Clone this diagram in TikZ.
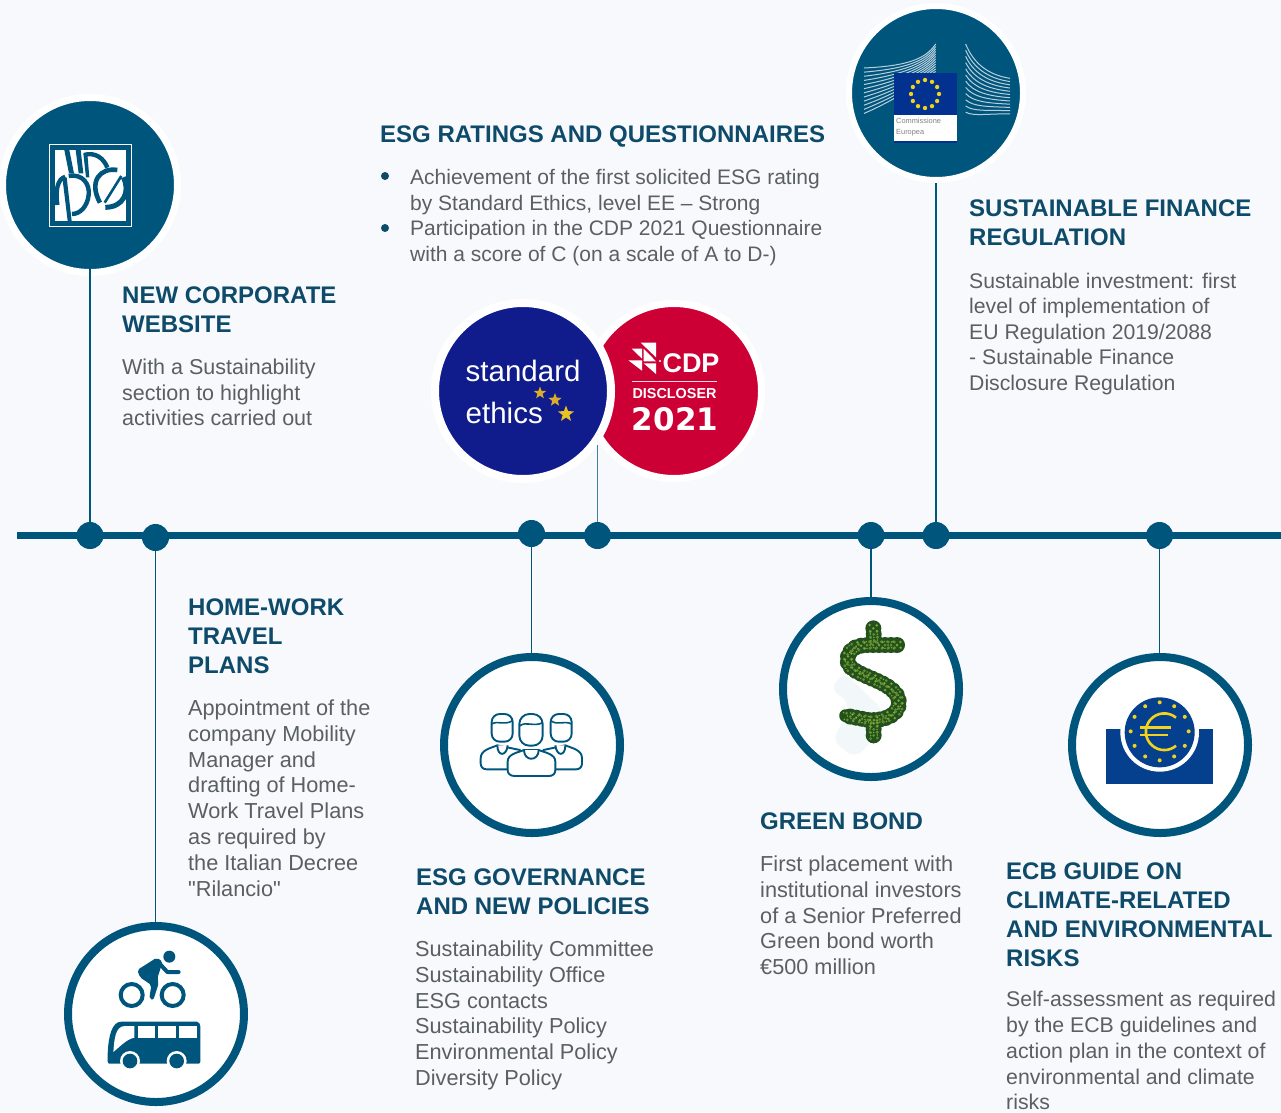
\documentclass[tikz,border=0pt]{standalone}
\usepackage{fontspec}
\setmainfont{Liberation Sans}
\newfontfamily\plainf{Liberation Sans}
\newfontfamily\dvfont{DejaVu Sans}
\usetikzlibrary{shapes.geometric}
\definecolor{bgc}{HTML}{F7F9FD}
\definecolor{bluec}{HTML}{00557D}
\definecolor{headc}{HTML}{0E4A69}
\definecolor{bodyc}{HTML}{5A5F64}
\definecolor{navyc}{HTML}{101C8C}
\definecolor{redc}{HTML}{CC0035}
\definecolor{eublue}{HTML}{02318F}
\definecolor{ecbblue}{HTML}{04408E}
\definecolor{goldc}{HTML}{F2D21C}
\definecolor{leafd}{HTML}{24501E}
\definecolor{leafl}{HTML}{5F8F34}
\tikzset{
  x=1pt,y=-1pt,
  headtxt/.style={anchor=north west,inner sep=0pt,align=left,text=headc,font=\fontsize{24}{29}\selectfont\bfseries},
  bodytxt/.style={anchor=north west,inner sep=0pt,align=left,text=bodyc,font=\fontsize{#1}{25.8}\selectfont},
  bodytxt/.default=21.7,
  tdot/.style={circle,fill=bluec,minimum size=27pt,inner sep=0pt,outer sep=0pt},
  stemline/.style={draw=bluec,line width=1.3pt},
  ringc/.style={circle,draw=bluec,fill=white,line width=8pt,minimum size=176pt,inner sep=0pt},
  halo/.style={circle,draw=white,line width=7pt,minimum size=175pt,inner sep=0pt,outer sep=0pt},
  bull/.style={circle,fill=headc,minimum size=8pt,inner sep=0pt},
  zoomed/.style={shift={#1},x=0.33333pt,y=-0.33333pt},
  pline/.style={draw=bluec,line width=1.9pt,line join=round,fill=white},
  leafa/.style={draw=leafd,line width=13pt,line cap=round,line join=round},
  leafb/.style={draw=leafd,line width=16pt,line cap=round,dash pattern=on 0pt off 6pt},
  leafc/.style={draw=leafl,line width=3pt,line cap=round,dash pattern=on 0pt off 6pt},
  leafe/.style={draw=leafl!70!yellow,line width=1.6pt,line cap=round,dash pattern=on 0pt off 9pt},
}
\newcommand{\dollarS}[1]{%
  \draw[#1] (366,150) -- (280,150) .. controls (235,150) and (215,170) .. (218,200)
      .. controls (222,245) and (370,255) .. (372,322)
      .. controls (372,365) and (320,378) .. (280,375) -- (212,362);
  \draw[#1] (295,100) -- (298,145);
  \draw[#1] (296,385) -- (296,425);
}
\begin{document}
\begin{tikzpicture}
\fill[bgc] (0,0) rectangle (1281,1112);
\useasboundingbox (0,0) rectangle (1281,1112);

% timeline
\coordinate (tl0) at (17,535.5);
\coordinate (tl1) at (1281,535.5);
\draw[bluec,line width=7pt] (tl0) -- (tl1);

% circles
\node[halo,fill=bluec] (web) at (90,185) {};
\node[halo,fill=redc] (cdp) at (674,391) {};
\node[halo,fill=navyc,minimum size=176pt,line width=8pt] (eth) at (523,391) {};
\node[halo,fill=bluec,minimum size=174pt,line width=6pt] (comm) at (936,93) {};
\node[ringc] (bike) at (156,1014) {};
\node[ringc] (peop) at (532,745) {};
\node[ringc] (doll) at (871,689) {};
\node[ringc] (ecb) at (1160,745) {};

% dots
\node[tdot] (d1) at (90,535.5) {};
\node[tdot] (d2) at (155.5,537.5) {};
\node[tdot] (d3) at (531.5,533.5) {};
\node[tdot] (d4) at (597.5,535.5) {};
\node[tdot] (d5) at (871,535.5) {};
\node[tdot] (d6) at (936,535.5) {};
\node[tdot] (d7) at (1159.5,535.5) {};

% stems
\coordinate (cdpfoot) at (597.5,445);
\draw[stemline,shorten <=-7pt] (web) -- (d1);
\draw[stemline] (d2) -- (d2 |- bike.north);
\draw[stemline] (d3) -- (d3 |- peop.north);
\draw[stemline,draw=bluec!75] (d4) -- (cdpfoot);
\draw[stemline] (d5) -- (doll);
\draw[stemline,shorten >=3pt] (d6) -- (comm);
\draw[stemline] (d7) -- (d7 |- ecb.north);

% --- HDP logo
\begin{scope}[zoomed={(0,90)}]
  \draw[white,line width=1.2pt] (148,163) rectangle (395,410);
  \fill[white] (165,180) rectangle (378,393);
  \begin{scope}
    \clip (165,180) rectangle (378,393);
    \fill[bluec] (193,180) -- (208,180) -- (222,250) -- (207,250) -- cycle;
    \fill[bluec] (227,180) -- (242,180) -- (250,250) -- (236,250) -- cycle;
    % P
    \fill[bluec] (250,190) -- (262,190) -- (268,262) -- (258,262) -- cycle;
    \draw[bluec,line width=4.4pt] (252,195) .. controls (285,185) and (312,205) .. (322,233);
    % left arc and strip
    \draw[bluec,line width=4.4pt] (196,260) .. controls (172,268) and (166,300) .. (172,345);
    \fill[bluec] (188,270) -- (200,262) -- (215,393) -- (203,393) -- cycle;
    % D
    \draw[bluec,line width=4.4pt] (206,258) .. controls (250,250) and (270,285) .. (266,315) .. controls (262,350) and (240,372) .. (216,372);
    % disc with slash
    \draw[bluec,line width=4.6pt] (352,240) .. controls (300,232) and (265,275) .. (300,338);
    \draw[bluec,line width=5pt] (370,262) .. controls (392,305) and (370,352) .. (316,352);
    \draw[bluec,line width=2.6pt] (314,338) -- (364,258);
  \end{scope}
\end{scope}

% --- Standard ethics
\node[inner sep=0pt,anchor=west,text=white,font=\fontsize{29.5}{30}\selectfont] (ethA) at (465.5,371) {standard};
\node[inner sep=0pt,anchor=west,text=white,font=\fontsize{29.5}{30}\selectfont] (ethB) at (465.5,413) {ethics};
\node[star,star points=5,star point ratio=2.4,fill=goldc!55!brown,minimum size=13pt,inner sep=0pt] (st1) at (540,393) {};
\node[star,star points=5,star point ratio=2.4,fill=goldc!55!brown,minimum size=14pt,inner sep=0pt] (st2) at (555,400) {};
\node[star,star points=5,star point ratio=2.4,fill=goldc!80!brown,minimum size=17pt,inner sep=0pt] (st3) at (566,414) {};

% --- CDP
\begin{scope}[zoomed={(430,300)}]
  \fill[white] (632,128) -- (678,128) -- (678,172) -- cycle;
  \fill[white] (605,146) -- (636,146) -- (636,176) -- cycle;
  \fill[white] (641,146) -- (678,184) -- (641,184) -- cycle;
  \fill[white] (595,181) -- (636,181) -- (636,212) -- cycle;
  \fill[white] (641,190) -- (678,190) -- (678,222) -- cycle;
  \fill[white] (690,183) circle (3.5);
  \draw[white!85!redc,line width=0.8pt] (605,243) -- (860,243);
\end{scope}
\node[inner sep=0pt,text=white,font=\fontsize{27}{27}\selectfont\bfseries] (cdpA) at (691,363.5) {CDP};
\node[inner sep=0pt,text=white,font=\fontsize{14.4}{14.4}\selectfont\bfseries] (cdpB) at (674.5,394) {DISCLOSER};
\node[inner sep=0pt,text=white,font=\dvfont\fontsize{31}{31}\selectfont\bfseries] (cdpC) at (675,419) {2021};

% --- Commission
\begin{scope}[zoomed={(845,0)}]
  \foreach \i in {0,...,11} {
    \draw[white!72!bluec,line width=1pt]
      (57,{204+12.4*\i}) .. controls (180,{198+8*\i}) and (240,{180+5*\i}) .. (272,{132+7.5*\i});
    \draw[white!72!bluec,line width=1pt]
      (362,{132+18.6*\i}) .. controls (385,{190+14.5*\i}) and (430,{225+10.5*\i}) .. (495,{235+9.7*\i});
  }
  \fill[white] (147,345) rectangle (335,427);
  \fill[eublue] (147,220) rectangle (335,345);
  \fill[eublue] (147,423) rectangle (335,428);
  \foreach \a in {0,30,...,330}
    \fill[goldc] ({240+42*cos(\a)},{282+42*sin(\a)}) circle (6.5);
\end{scope}
\node[anchor=north west,inner sep=0pt,align=left,text=black!50,font=\fontsize{7.4}{10.6}\selectfont] (commT) at (896,118) {Commissione\\Europea};

% --- Bike and bus
\begin{scope}[zoomed={(60,920)}]
  \fill[bluec] (328,110) circle (18);
  \draw[bluec,line width=4pt,line cap=round,line join=round] (296,128) -- (322,156) -- (356,156);
  \fill[bluec,rounded corners=2pt] (232,150) -- (290,113) -- (308,125) -- (292,175) -- (296,190) -- (280,240) -- (268,236) -- (274,195) -- (240,172) -- cycle;
  \draw[bluec,line width=4pt] (215,225) circle (33);
  \draw[bluec,line width=4pt] (338,225) circle (33);
  \fill[bluec,rounded corners=2pt] (143,431) -- (143,400) .. controls (146,350) and (155,305) .. (190,305) -- (405,305) .. controls (418,305) and (421,315) .. (421,325) -- (421,431) -- cycle;
  \fill[white] (234,318) rectangle (285,353);
  \fill[white] (295,318) rectangle (347,353);
  \fill[white] (356,318) rectangle (410,353);
  \fill[white] (160,396) .. controls (163,360) and (165,318) .. (195,318) -- (223,318) -- (223,353) .. controls (200,358) and (185,375) .. (160,396) -- cycle;
  \fill[white] (210,423) circle (30);
  \fill[white] (350,423) circle (30);
  \fill[bluec] (210,423) circle (22);
  \fill[bluec] (350,423) circle (22);
\end{scope}

% --- People
\begin{scope}[zoomed={(440,650)}]
  % side bodies
  \draw[pline] (122,325) .. controls (122,300) and (150,295) .. (172,286) -- (240,300) -- (240,358) -- (140,358) .. controls (128,358) and (122,350) .. (122,340) -- cycle;
  \draw[pline] (426,325) .. controls (426,300) and (398,295) .. (376,286) -- (310,300) -- (310,358) -- (408,358) .. controls (420,358) and (426,350) .. (426,340) -- cycle;
  \draw[pline] (172,286) .. controls (172,320) and (200,320) .. (203,286);
  \draw[pline] (346,286) .. controls (350,320) and (376,320) .. (376,286);
  % side heads
  \draw[pline,rounded corners=8pt] (155,192) rectangle (218,275);
  \draw[pline,rounded corners=8pt] (332,192) rectangle (395,275);
  \draw[bluec,line width=1.6pt] (155,222) .. controls (175,210) and (190,228) .. (218,212);
  \draw[bluec,line width=1.6pt] (332,212) .. controls (355,228) and (370,210) .. (395,222);
  % centre body
  \draw[pline] (203,335) .. controls (203,312) and (232,308) .. (252,300) -- (296,300) .. controls (316,308) and (346,312) .. (346,335) -- (346,360) .. controls (346,372) and (338,378) .. (326,378) -- (224,378) .. controls (212,378) and (203,372) .. (203,360) -- cycle;
  \draw[pline] (252,300) .. controls (252,335) and (296,335) .. (296,300);
  % centre head
  \draw[pline,rounded corners=10pt] (238,192) rectangle (308,287);
  \draw[bluec,line width=1.6pt] (238,228) .. controls (260,212) and (280,232) .. (308,218);
\end{scope}

% --- Dollar
\begin{scope}[zoomed={(775,595)}]
  \fill[bluec!5!white,rounded corners=10pt] (205,230) -- (165,285) -- (225,320) -- (200,390) -- (170,435) -- (240,490) -- (290,440) -- (330,350) -- cycle;
  \dollarS{leafa}
  \dollarS{leafb}
  \foreach \dx/\dy in {-11/-10,10/-9,-9/10,11/8,0/0} {
    \begin{scope}[shift={(\dx,\dy)}]
      \dollarS{leafc}
      \dollarS{leafe}
    \end{scope}
  }
\end{scope}

% --- ECB
\begin{scope}[zoomed={(1065,650)}]
  \fill[ecbblue] (122,238) rectangle (445,402);
  \fill[white] (284,247) circle (118);
  \fill[ecbblue] (284,247) circle (105);
  \foreach \a in {0,30,...,330}
    \fill[goldc] ({284+87*cos(\a)},{244+87*sin(\a)}) circle (6);
  \draw[goldc,line width=2.6pt] (333,203) arc[start angle=-50,end angle=-310,radius=55];
  \draw[goldc,line width=2.6pt] (225,233) -- (318,233);
  \draw[goldc,line width=2.6pt] (225,255) -- (310,255);
\end{scope}

% --- text
\node[headtxt] (h1) at (122,287) {NEW CORPORATE\\WEBSITE};
\node[bodytxt=21.5] (b1) at (122,358.5) {With a Sustainability\\section to highlight\\activities carried out};

\node[headtxt] (h2) at (380,126) {ESG RATINGS AND QUESTIONNAIRES};
\node[bull] (p1) at (385,176) {};
\node[bull] (p2) at (385,228) {};
\node[bodytxt=21] (b2a) at (410,169) {Achievement of the first solicited ESG rating\\by Standard Ethics, level EE – Strong};
\node[bodytxt=21] (b2b) at (410,220) {Participation in the CDP 2021 Questionnaire\\with a score of C (on a scale of A to D-)};

\node[headtxt] (h3) at (969,200) {SUSTAINABLE FINANCE\\REGULATION};
\node[bodytxt=21.2,font=\fontsize{21.2}{25.5}\selectfont] (b3) at (969,272.5) {Sustainable investment: first\\level of implementation of\\EU Regulation 2019/2088\\- Sustainable Finance\\Disclosure Regulation};

\node[headtxt] (h4) at (188,599) {HOME-WORK\\TRAVEL\\PLANS};
\node[bodytxt] (b4) at (188,699.5) {Appointment of the\\company Mobility\\Manager and\\drafting of Home-\\Work Travel Plans\\as required by\\the Italian Decree\\{\plainf"}Rilancio{\plainf"}};

\node[headtxt] (h5) at (416,869) {ESG GOVERNANCE\\AND NEW POLICIES};
\node[bodytxt] (b5) at (415,940.5) {Sustainability Committee\\Sustainability Office\\ESG contacts\\Sustainability Policy\\Environmental Policy\\Diversity Policy};

\node[headtxt] (h6) at (760,813) {GREEN BOND};
\node[bodytxt] (b6) at (760,855.5) {First placement with\\institutional investors\\of a Senior Preferred\\Green bond worth\\€500 million};

\node[headtxt] (h7) at (1006,863) {ECB GUIDE ON\\CLIMATE-RELATED\\AND ENVIRONMENTAL\\RISKS};
\node[bodytxt=21.3] (b7) at (1006,991) {Self-assessment as required\\by the ECB guidelines and\\action plan in the context of\\environmental and climate\\risks};
\end{tikzpicture}
\end{document}
